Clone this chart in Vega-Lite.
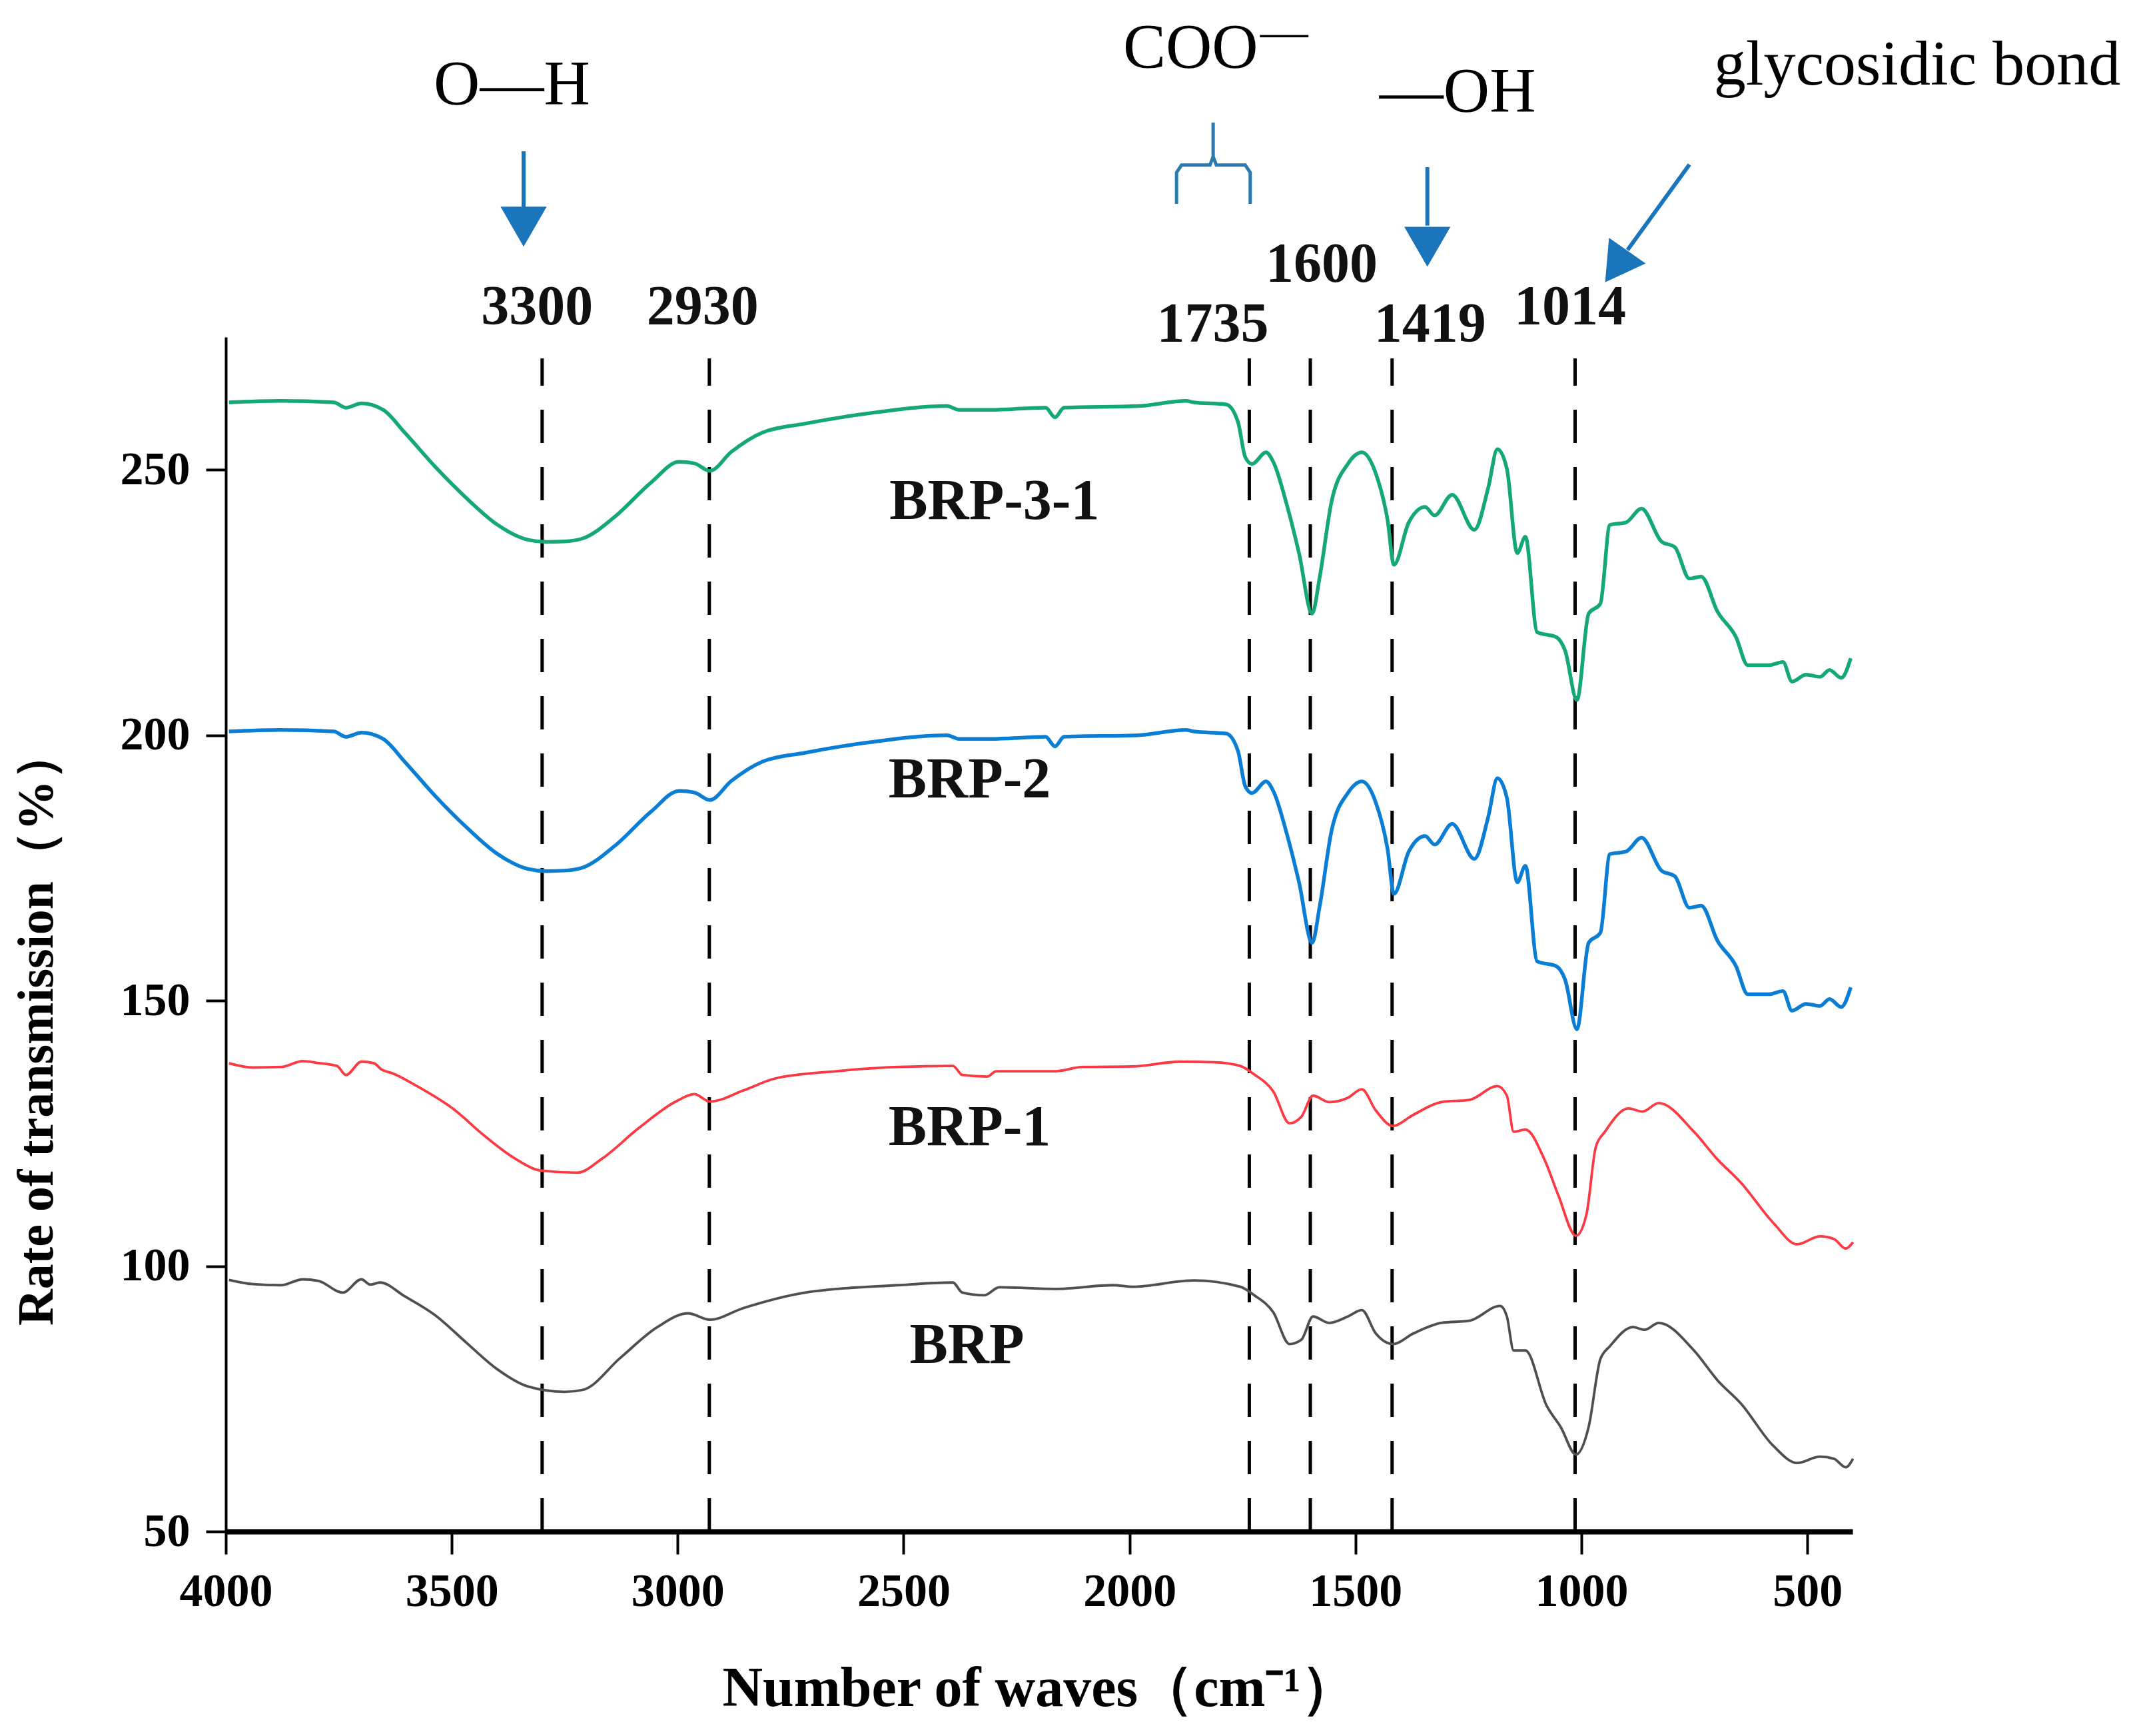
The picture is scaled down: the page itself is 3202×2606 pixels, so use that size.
{
"$schema": "https://vega.github.io/schema/vega-lite/v6.json",
"width": 2442, "height": 1793,
"autosize": {"type": "none"},
"padding": {"left": 339, "top": 506, "right": 421, "bottom": 307},
"background": "white",
"config": {"view": {"stroke": null}, "font": "Liberation Serif"},
"datasets": {
"spectra": [
{"s":"BRP-3-1","w":3993,"v":262.7},{"s":"BRP-3-1","w":3880,"v":263.0},{"s":"BRP-3-1","w":3761,"v":262.7},{"s":"BRP-3-1","w":3734,"v":261.7},{"s":"BRP-3-1","w":3700,"v":262.5},{"s":"BRP-3-1","w":3652,"v":261.3},{"s":"BRP-3-1","w":3604,"v":257},{"s":"BRP-3-1","w":3536,"v":250.5},{"s":"BRP-3-1","w":3468,"v":244.7},{"s":"BRP-3-1","w":3400,"v":239.7},{"s":"BRP-3-1","w":3331,"v":236.8},{"s":"BRP-3-1","w":3290,"v":236.4},{"s":"BRP-3-1","w":3250,"v":236.5},{"s":"BRP-3-1","w":3209,"v":237.1},{"s":"BRP-3-1","w":3140,"v":241.1},{"s":"BRP-3-1","w":3059,"v":247.6},{"s":"BRP-3-1","w":2997,"v":251.5},{"s":"BRP-3-1","w":2963,"v":251.2},{"s":"BRP-3-1","w":2929,"v":249.8},{"s":"BRP-3-1","w":2881,"v":253.4},{"s":"BRP-3-1","w":2813,"v":257},{"s":"BRP-3-1","w":2718,"v":258.7},{"s":"BRP-3-1","w":2581,"v":260.6},{"s":"BRP-3-1","w":2404,"v":262},{"s":"BRP-3-1","w":2377,"v":261.3},{"s":"BRP-3-1","w":2308,"v":261.3},{"s":"BRP-3-1","w":2186,"v":261.7},{"s":"BRP-3-1","w":2165,"v":259.9},{"s":"BRP-3-1","w":2145,"v":261.7},{"s":"BRP-3-1","w":1981,"v":262},{"s":"BRP-3-1","w":1875,"v":263},{"s":"BRP-3-1","w":1858,"v":262.7},{"s":"BRP-3-1","w":1786,"v":262.3},{"s":"BRP-3-1","w":1760,"v":259},{"s":"BRP-3-1","w":1744,"v":252.4},{"s":"BRP-3-1","w":1729,"v":251.1},{"s":"BRP-3-1","w":1698,"v":253.3},{"s":"BRP-3-1","w":1682,"v":251.5},{"s":"BRP-3-1","w":1651,"v":243.1},{"s":"BRP-3-1","w":1625,"v":234.3},{"s":"BRP-3-1","w":1596,"v":222.9},{"s":"BRP-3-1","w":1579,"v":229.9},{"s":"BRP-3-1","w":1553,"v":244},{"s":"BRP-3-1","w":1517,"v":251.1},{"s":"BRP-3-1","w":1486,"v":253.3},{"s":"BRP-3-1","w":1455,"v":249.3},{"s":"BRP-3-1","w":1429,"v":240.5},{"s":"BRP-3-1","w":1415,"v":232.1},{"s":"BRP-3-1","w":1382,"v":240.1},{"s":"BRP-3-1","w":1346,"v":243},{"s":"BRP-3-1","w":1325,"v":241.4},{"s":"BRP-3-1","w":1286,"v":245.3},{"s":"BRP-3-1","w":1237,"v":238.7},{"s":"BRP-3-1","w":1206,"v":246.7},{"s":"BRP-3-1","w":1186,"v":253.9},{"s":"BRP-3-1","w":1165,"v":250.2},{"s":"BRP-3-1","w":1142,"v":234.3},{"s":"BRP-3-1","w":1124,"v":237.4},{"s":"BRP-3-1","w":1098,"v":219.4},{"s":"BRP-3-1","w":1056,"v":218.5},{"s":"BRP-3-1","w":1036,"v":215.9},{"s":"BRP-3-1","w":1010,"v":206.6},{"s":"BRP-3-1","w":984,"v":222.9},{"s":"BRP-3-1","w":958,"v":224.8},{"s":"BRP-3-1","w":937,"v":239.6},{"s":"BRP-3-1","w":901,"v":240.1},{"s":"BRP-3-1","w":867,"v":242.7},{"s":"BRP-3-1","w":823,"v":236.5},{"s":"BRP-3-1","w":793,"v":235.4},{"s":"BRP-3-1","w":761,"v":229.5},{"s":"BRP-3-1","w":735,"v":229.9},{"s":"BRP-3-1","w":699,"v":223.3},{"s":"BRP-3-1","w":658,"v":218.5},{"s":"BRP-3-1","w":632,"v":213.2},{"s":"BRP-3-1","w":585,"v":213.2},{"s":"BRP-3-1","w":554,"v":213.8},{"s":"BRP-3-1","w":534,"v":210.1},{"s":"BRP-3-1","w":503,"v":211.4},{"s":"BRP-3-1","w":472,"v":211},{"s":"BRP-3-1","w":451,"v":212.3},{"s":"BRP-3-1","w":425,"v":210.8},{"s":"BRP-3-1","w":404,"v":214.5},
{"s":"BRP-2","w":3993,"v":200.7},{"s":"BRP-2","w":3880,"v":201.0},{"s":"BRP-2","w":3761,"v":200.7},{"s":"BRP-2","w":3734,"v":199.7},{"s":"BRP-2","w":3700,"v":200.5},{"s":"BRP-2","w":3652,"v":199.3},{"s":"BRP-2","w":3604,"v":195},{"s":"BRP-2","w":3536,"v":188.5},{"s":"BRP-2","w":3468,"v":182.7},{"s":"BRP-2","w":3400,"v":177.7},{"s":"BRP-2","w":3331,"v":174.8},{"s":"BRP-2","w":3290,"v":174.4},{"s":"BRP-2","w":3250,"v":174.5},{"s":"BRP-2","w":3209,"v":175.1},{"s":"BRP-2","w":3140,"v":179.1},{"s":"BRP-2","w":3059,"v":185.6},{"s":"BRP-2","w":2997,"v":189.5},{"s":"BRP-2","w":2963,"v":189.2},{"s":"BRP-2","w":2929,"v":187.8},{"s":"BRP-2","w":2881,"v":191.4},{"s":"BRP-2","w":2813,"v":195},{"s":"BRP-2","w":2718,"v":196.7},{"s":"BRP-2","w":2581,"v":198.6},{"s":"BRP-2","w":2404,"v":200},{"s":"BRP-2","w":2377,"v":199.3},{"s":"BRP-2","w":2308,"v":199.3},{"s":"BRP-2","w":2186,"v":199.7},{"s":"BRP-2","w":2165,"v":197.9},{"s":"BRP-2","w":2145,"v":199.7},{"s":"BRP-2","w":1981,"v":200},{"s":"BRP-2","w":1875,"v":201},{"s":"BRP-2","w":1858,"v":200.7},{"s":"BRP-2","w":1786,"v":200.3},{"s":"BRP-2","w":1760,"v":197},{"s":"BRP-2","w":1744,"v":190.4},{"s":"BRP-2","w":1729,"v":189.1},{"s":"BRP-2","w":1698,"v":191.3},{"s":"BRP-2","w":1682,"v":189.5},{"s":"BRP-2","w":1651,"v":181.1},{"s":"BRP-2","w":1625,"v":172.3},{"s":"BRP-2","w":1596,"v":160.9},{"s":"BRP-2","w":1579,"v":167.9},{"s":"BRP-2","w":1553,"v":182},{"s":"BRP-2","w":1517,"v":189.1},{"s":"BRP-2","w":1486,"v":191.3},{"s":"BRP-2","w":1455,"v":187.3},{"s":"BRP-2","w":1429,"v":178.5},{"s":"BRP-2","w":1415,"v":170.1},{"s":"BRP-2","w":1382,"v":178.1},{"s":"BRP-2","w":1346,"v":181},{"s":"BRP-2","w":1325,"v":179.4},{"s":"BRP-2","w":1286,"v":183.3},{"s":"BRP-2","w":1237,"v":176.7},{"s":"BRP-2","w":1206,"v":184.7},{"s":"BRP-2","w":1186,"v":191.9},{"s":"BRP-2","w":1165,"v":188.2},{"s":"BRP-2","w":1142,"v":172.3},{"s":"BRP-2","w":1124,"v":175.4},{"s":"BRP-2","w":1098,"v":157.4},{"s":"BRP-2","w":1056,"v":156.5},{"s":"BRP-2","w":1036,"v":153.9},{"s":"BRP-2","w":1010,"v":144.6},{"s":"BRP-2","w":984,"v":160.9},{"s":"BRP-2","w":958,"v":162.8},{"s":"BRP-2","w":937,"v":177.6},{"s":"BRP-2","w":901,"v":178.1},{"s":"BRP-2","w":867,"v":180.7},{"s":"BRP-2","w":823,"v":174.5},{"s":"BRP-2","w":793,"v":173.4},{"s":"BRP-2","w":761,"v":167.5},{"s":"BRP-2","w":735,"v":167.9},{"s":"BRP-2","w":699,"v":161.3},{"s":"BRP-2","w":658,"v":156.5},{"s":"BRP-2","w":632,"v":151.2},{"s":"BRP-2","w":585,"v":151.2},{"s":"BRP-2","w":554,"v":151.8},{"s":"BRP-2","w":534,"v":148.1},{"s":"BRP-2","w":503,"v":149.4},{"s":"BRP-2","w":472,"v":149},{"s":"BRP-2","w":451,"v":150.3},{"s":"BRP-2","w":425,"v":148.8},{"s":"BRP-2","w":404,"v":152.5},
{"s":"BRP-1","w":3993,"v":138.2},{"s":"BRP-1","w":3940,"v":137.4},{"s":"BRP-1","w":3877,"v":137.5},{"s":"BRP-1","w":3830,"v":138.6},{"s":"BRP-1","w":3800,"v":138.3},{"s":"BRP-1","w":3754,"v":137.7},{"s":"BRP-1","w":3734,"v":136},{"s":"BRP-1","w":3700,"v":138.5},{"s":"BRP-1","w":3672,"v":138.2},{"s":"BRP-1","w":3655,"v":137.0},{"s":"BRP-1","w":3631,"v":136.3},{"s":"BRP-1","w":3577,"v":133.9},{"s":"BRP-1","w":3495,"v":129.5},{"s":"BRP-1","w":3427,"v":124.5},{"s":"BRP-1","w":3359,"v":120.2},{"s":"BRP-1","w":3304,"v":118},{"s":"BRP-1","w":3222,"v":117.6},{"s":"BRP-1","w":3168,"v":120.2},{"s":"BRP-1","w":3086,"v":126},{"s":"BRP-1","w":3004,"v":131},{"s":"BRP-1","w":2963,"v":132.4},{"s":"BRP-1","w":2929,"v":131},{"s":"BRP-1","w":2854,"v":133.1},{"s":"BRP-1","w":2786,"v":135.3},{"s":"BRP-1","w":2650,"v":136.7},{"s":"BRP-1","w":2513,"v":137.5},{"s":"BRP-1","w":2391,"v":137.7},{"s":"BRP-1","w":2370,"v":136},{"s":"BRP-1","w":2315,"v":135.7},{"s":"BRP-1","w":2295,"v":136.7},{"s":"BRP-1","w":2165,"v":136.7},{"s":"BRP-1","w":2104,"v":137.5},{"s":"BRP-1","w":1993,"v":137.6},{"s":"BRP-1","w":1889,"v":138.5},{"s":"BRP-1","w":1812,"v":138.4},{"s":"BRP-1","w":1755,"v":137.7},{"s":"BRP-1","w":1724,"v":136.1},{"s":"BRP-1","w":1682,"v":132.9},{"s":"BRP-1","w":1646,"v":126.9},{"s":"BRP-1","w":1620,"v":128.1},{"s":"BRP-1","w":1594,"v":132.1},{"s":"BRP-1","w":1558,"v":130.9},{"s":"BRP-1","w":1517,"v":131.7},{"s":"BRP-1","w":1486,"v":133.3},{"s":"BRP-1","w":1455,"v":129.3},{"s":"BRP-1","w":1417,"v":126.4},{"s":"BRP-1","w":1372,"v":128.5},{"s":"BRP-1","w":1310,"v":130.9},{"s":"BRP-1","w":1248,"v":131.3},{"s":"BRP-1","w":1186,"v":133.9},{"s":"BRP-1","w":1165,"v":132.1},{"s":"BRP-1","w":1150,"v":125.3},{"s":"BRP-1","w":1124,"v":125.7},{"s":"BRP-1","w":1082,"v":120.1},{"s":"BRP-1","w":1051,"v":113.3},{"s":"BRP-1","w":1012,"v":105.7},{"s":"BRP-1","w":989,"v":109.7},{"s":"BRP-1","w":968,"v":122.5},{"s":"BRP-1","w":948,"v":125.3},{"s":"BRP-1","w":896,"v":129.7},{"s":"BRP-1","w":865,"v":129.1},{"s":"BRP-1","w":829,"v":130.7},{"s":"BRP-1","w":751,"v":125.3},{"s":"BRP-1","w":699,"v":120.1},{"s":"BRP-1","w":647,"v":115.7},{"s":"BRP-1","w":575,"v":108.1},{"s":"BRP-1","w":523,"v":104.1},{"s":"BRP-1","w":472,"v":105.6},{"s":"BRP-1","w":441,"v":105.1},{"s":"BRP-1","w":415,"v":103.3},{"s":"BRP-1","w":399,"v":104.5},
{"s":"BRP","w":3993,"v":97.4},{"s":"BRP","w":3940,"v":96.6},{"s":"BRP","w":3877,"v":96.4},{"s":"BRP","w":3830,"v":97.5},{"s":"BRP","w":3795,"v":97.2},{"s":"BRP","w":3741,"v":95},{"s":"BRP","w":3700,"v":97.5},{"s":"BRP","w":3680,"v":96.5},{"s":"BRP","w":3659,"v":96.9},{"s":"BRP","w":3604,"v":94.3},{"s":"BRP","w":3536,"v":90.7},{"s":"BRP","w":3468,"v":85.6},{"s":"BRP","w":3400,"v":80.6},{"s":"BRP","w":3331,"v":77.3},{"s":"BRP","w":3250,"v":76.3},{"s":"BRP","w":3209,"v":76.7},{"s":"BRP","w":3127,"v":82.7},{"s":"BRP","w":3045,"v":88.5},{"s":"BRP","w":2977,"v":91.1},{"s":"BRP","w":2929,"v":89.9},{"s":"BRP","w":2854,"v":92.1},{"s":"BRP","w":2718,"v":95},{"s":"BRP","w":2513,"v":96.4},{"s":"BRP","w":2391,"v":96.9},{"s":"BRP","w":2370,"v":95},{"s":"BRP","w":2322,"v":94.5},{"s":"BRP","w":2288,"v":96},{"s":"BRP","w":2165,"v":95.7},{"s":"BRP","w":2036,"v":96.4},{"s":"BRP","w":1993,"v":96.1},{"s":"BRP","w":1858,"v":97.3},{"s":"BRP","w":1755,"v":96.1},{"s":"BRP","w":1724,"v":94.5},{"s":"BRP","w":1682,"v":91.3},{"s":"BRP","w":1646,"v":85.3},{"s":"BRP","w":1620,"v":86.1},{"s":"BRP","w":1594,"v":90.5},{"s":"BRP","w":1558,"v":89.3},{"s":"BRP","w":1517,"v":90.5},{"s":"BRP","w":1486,"v":91.7},{"s":"BRP","w":1455,"v":87.3},{"s":"BRP","w":1417,"v":85.3},{"s":"BRP","w":1372,"v":87.3},{"s":"BRP","w":1310,"v":89.3},{"s":"BRP","w":1248,"v":89.7},{"s":"BRP","w":1180,"v":92.5},{"s":"BRP","w":1165,"v":90.5},{"s":"BRP","w":1150,"v":84.1},{"s":"BRP","w":1124,"v":84.1},{"s":"BRP","w":1077,"v":73.7},{"s":"BRP","w":1046,"v":69.7},{"s":"BRP","w":1012,"v":64.5},{"s":"BRP","w":984,"v":69.7},{"s":"BRP","w":958,"v":82.5},{"s":"BRP","w":937,"v":84.9},{"s":"BRP","w":886,"v":88.5},{"s":"BRP","w":860,"v":88},{"s":"BRP","w":829,"v":89.3},{"s":"BRP","w":751,"v":84.1},{"s":"BRP","w":699,"v":78.5},{"s":"BRP","w":647,"v":74.1},{"s":"BRP","w":575,"v":66.1},{"s":"BRP","w":523,"v":62.9},{"s":"BRP","w":472,"v":64.1},{"s":"BRP","w":441,"v":63.7},{"s":"BRP","w":415,"v":62.1},{"s":"BRP","w":399,"v":63.7}
],
"peaks": [{"w":3300,"v":50,"v2":271},{"w":2930,"v":50,"v2":271},{"w":1735,"v":50,"v2":271},{"w":1600,"v":50,"v2":271},{"w":1419,"v":50,"v2":271},{"w":1014,"v":50,"v2":271}],
"peaklabels": [{"t":"3300","w":3311,"v":280.5},{"t":"2930","w":2945,"v":280.5},{"t":"1735","w":1816,"v":277.3},{"t":"1600","w":1575,"v":288.5},{"t":"1419","w":1335,"v":277.3},{"t":"1014","w":1025,"v":280.5}],
"serieslabels": [{"t":"BRP-3-1","w":2299,"v":244},{"t":"BRP-2","w":2354,"v":191.5},{"t":"BRP-1","w":2354,"v":126},{"t":"BRP","w":2360,"v":85}],
"notes": [{"t":"O—H","w":3367,"v":322.4},{"t":"COO","w":1865,"v":329.3},{"t":"—OH","w":1274,"v":321.1},{"t":"glycosidic bond","w":257,"v":326.2}],
"sup": [{"t":"—","w":1658,"v":336.8}],
"stems": [{"w":3341,"v":310,"w2":3341,"v2":299},{"w":1341,"v":307,"w2":1341,"v2":296},{"w":761,"v":307.5,"w2":898,"v2":291.4}],
"heads": [{"w":3341,"v":295.8},{"w":1341,"v":292}],
"diaghead": [{"w":923,"v":288.3}],
"brace": [{"o":1,"w":1896,"v":300.1},{"o":2,"w":1896,"v":306},{"o":3,"w":1885,"v":307.4},{"o":4,"w":1822,"v":307.4},{"o":5,"w":1815,"v":309},{"o":6,"w":1815,"v":315.4},{"o":7,"w":1815,"v":309},{"o":8,"w":1808,"v":307.4},{"o":9,"w":1744,"v":307.4},{"o":10,"w":1733,"v":306},{"o":11,"w":1733,"v":300.1}]
},
"encoding": {
"x": {"field": "w", "type": "quantitative", "scale": {"domain": [400, 4000], "reverse": true, "nice": false, "zero": false},
 "axis": {"values": [4000, 3500, 3000, 2500, 2000, 1500, 1000, 500], "format": "d", "grid": false, "labelFlush": false, "labelOverlap": false,
  "title": "Number of waves（cm⁻¹）", "titleFont": "Liberation Serif", "titleFontSize": 84, "titleFontWeight": "bold", "titleColor": "black", "titlePadding": 70,
  "labelFont": "Liberation Serif", "labelFontSize": 70, "labelFontWeight": "bold", "labelColor": "black", "labelPadding": 22,
  "tickSize": 34, "tickWidth": 4, "tickColor": "black", "domainColor": "black", "domainWidth": 8}},
"y": {"field": "v", "type": "quantitative", "scale": {"domain": [50, 275], "nice": false, "zero": false},
 "axis": {"values": [50, 100, 150, 200, 250], "grid": false, "labelOverlap": false, "labelFlush": false,
  "title": "Rate of transmission（%）", "titleFont": "Liberation Serif", "titleFontSize": 76, "titleFontWeight": "bold", "titleColor": "black", "titleX": -245, "titleY": 1036,
  "labelFont": "Liberation Serif", "labelFontSize": 70, "labelFontWeight": "bold", "labelColor": "black", "labelPadding": 24,
  "tickSize": 30, "tickWidth": 4, "tickColor": "black", "domainColor": "black", "domainWidth": 4}}
},
"layer": [
{
"data": {"name": "peaks"},
"mark": {"type": "rule", "strokeDash": [50, 36], "strokeWidth": 5, "color": "black"},
"encoding": {"y2": {"field": "v2"}}
},
{
"data": {"name": "spectra"},
"transform": [{"filter": "datum.s == 'BRP-1' || datum.s == 'BRP'"}],
"mark": {"type": "line", "strokeWidth": 3.8, "interpolate": "monotone"},
"encoding": {
"color": {"field": "s", "type": "nominal", "scale": {"domain": ["BRP-3-1", "BRP-2", "BRP-1", "BRP"], "range": ["#14a874", "#0a7dd4", "#fb3a44", "#4f4f4f"]}, "legend": null}
}
},
{
"data": {"name": "spectra"},
"transform": [{"filter": "datum.s == 'BRP-3-1' || datum.s == 'BRP-2'"}],
"mark": {"type": "line", "strokeWidth": 5.5, "interpolate": "monotone"},
"encoding": {
"color": {"field": "s", "type": "nominal", "scale": {"domain": ["BRP-3-1", "BRP-2", "BRP-1", "BRP"], "range": ["#14a874", "#0a7dd4", "#fb3a44", "#4f4f4f"]}, "legend": null}
}
},
{
"data": {"name": "serieslabels"},
"mark": {"type": "text", "font": "Liberation Serif", "fontSize": 86, "fontWeight": "bold", "color": "#111111", "align": "center", "baseline": "middle"},
"encoding": {"text": {"field": "t"}}
},
{
"data": {"name": "peaklabels"},
"mark": {"type": "text", "font": "Liberation Serif", "fontSize": 84, "fontWeight": "bold", "color": "#111111", "align": "center", "baseline": "middle"},
"encoding": {"text": {"field": "t"}}
},
{
"data": {"name": "notes"},
"mark": {"type": "text", "font": "Liberation Serif", "fontSize": 96, "fontWeight": "normal", "color": "black", "align": "center", "baseline": "middle"},
"encoding": {"text": {"field": "t"}}
},
{
"data": {"name": "sup"},
"mark": {"type": "text", "font": "Liberation Serif", "fontSize": 72, "fontWeight": "normal", "color": "black", "align": "center", "baseline": "top"},
"encoding": {"text": {"field": "t"}}
},
{
"data": {"name": "stems"},
"mark": {"type": "rule", "strokeWidth": 6, "color": "#1a75bb"},
"encoding": {"x2": {"field": "w2"}, "y2": {"field": "v2"}}
},
{
"data": {"name": "heads"},
"mark": {"type": "point", "shape": "triangle-down", "filled": true, "size": 4800, "color": "#1a75bb", "opacity": 1}
},
{
"data": {"name": "diaghead"},
"mark": {"type": "point", "shape": "triangle-down", "filled": true, "size": 4500, "angle": 35, "color": "#1a75bb", "opacity": 1}
},
{
"data": {"name": "brace"},
"mark": {"type": "line", "strokeWidth": 5, "color": "#2a7ab0", "interpolate": "linear"},
"encoding": {"order": {"field": "o", "type": "quantitative"}}
}
]
}
